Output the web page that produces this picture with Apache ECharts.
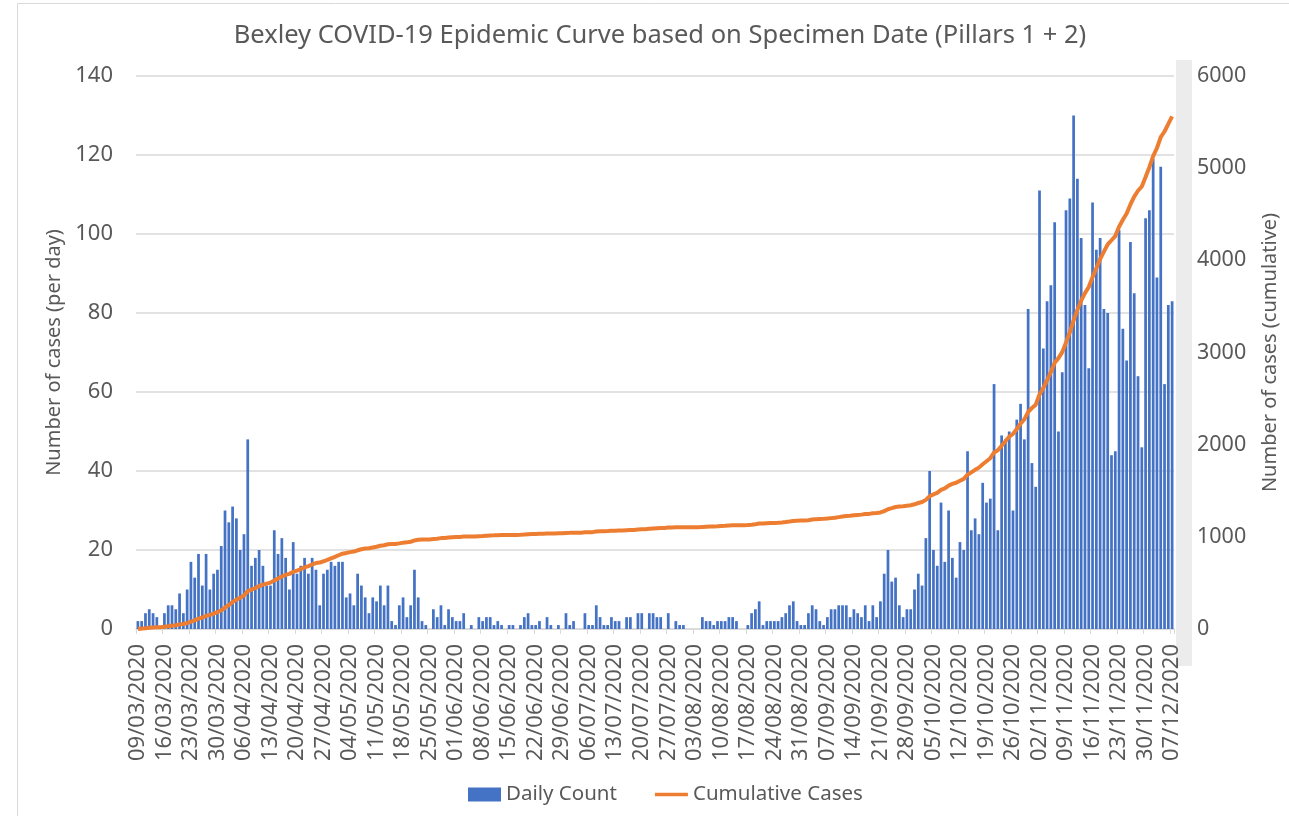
<!DOCTYPE html>
<html>
<head>
<meta charset="utf-8">
<script src="https://cdn.jsdelivr.net/npm/echarts@6/dist/echarts.min.js"></script>
<style>
  html, body { margin: 0; padding: 0; background: #fff; }
  #chart { width: 1289px; height: 816px; }
</style>
</head>
<body>
<div id="chart"></div>
<script>
// first day of the series, one category per day up to 07/12/2020
const startDate = '2020-03-09';
const dayCount = 274;

// daily cases (left axis)
const dailyCount = [
  2, 2, 4, 5, 4, 3, 0, 4, 6, 6,
  5, 9, 4, 10, 17, 13, 19, 11, 19, 10,
  14, 15, 21, 30, 27, 31, 28, 20, 24, 48,
  16, 18, 20, 16, 11, 11, 25, 19, 23, 18,
  10, 22, 14, 16, 18, 14, 18, 15, 6, 14,
  15, 17, 16, 17, 17, 8, 9, 6, 14, 11,
  8, 4, 8, 7, 11, 6, 11, 2, 1, 6,
  8, 3, 6, 15, 8, 2, 1, 0, 5, 3,
  6, 1, 5, 3, 2, 2, 4, 0, 1, 0,
  3, 2, 3, 3, 1, 2, 1, 0, 1, 1,
  0, 1, 3, 4, 1, 1, 2, 0, 3, 1,
  0, 1, 0, 4, 1, 2, 0, 0, 4, 1,
  1, 6, 3, 1, 1, 3, 2, 2, 0, 3,
  3, 0, 4, 4, 0, 4, 4, 3, 3, 0,
  4, 0, 2, 1, 1, 0, 0, 0, 0, 3,
  2, 2, 1, 2, 2, 2, 3, 3, 2, 0,
  0, 1, 4, 5, 7, 1, 2, 2, 2, 2,
  3, 4, 6, 7, 2, 1, 1, 4, 6, 5,
  2, 1, 3, 5, 5, 6, 6, 6, 3, 5,
  4, 3, 6, 2, 6, 3, 7, 14, 20, 12,
  13, 6, 3, 5, 5, 10, 14, 11, 23, 40,
  20, 16, 32, 17, 30, 18, 13, 22, 20, 45,
  25, 28, 24, 37, 32, 33, 62, 25, 49, 48,
  50, 30, 53, 57, 48, 81, 42, 36, 111, 71,
  83, 87, 103, 50, 65, 106, 109, 130, 114, 99,
  82, 66, 108, 96, 99, 81, 80, 44, 45, 101,
  76, 68, 98, 85, 64, 46, 104, 106, 119, 89,
  117, 62, 82, 83
];

// cumulative cases (right axis)
const cumulativeCases = [
  2, 4, 8, 13, 17, 20, 20, 24, 30, 36,
  41, 50, 54, 64, 81, 94, 113, 124, 143, 153,
  167, 182, 203, 233, 260, 291, 319, 339, 363, 411,
  427, 445, 465, 481, 492, 503, 528, 547, 570, 588,
  598, 620, 634, 650, 668, 682, 700, 715, 721, 735,
  750, 767, 783, 800, 817, 825, 834, 840, 854, 865,
  873, 877, 885, 892, 903, 909, 920, 922, 923, 929,
  937, 940, 946, 961, 969, 971, 972, 972, 977, 980,
  986, 987, 992, 995, 997, 999, 1003, 1003, 1004, 1004,
  1007, 1009, 1012, 1015, 1016, 1018, 1019, 1019, 1020, 1021,
  1021, 1022, 1025, 1029, 1030, 1031, 1033, 1033, 1036, 1037,
  1037, 1038, 1038, 1042, 1043, 1045, 1045, 1045, 1049, 1050,
  1051, 1057, 1060, 1061, 1062, 1065, 1067, 1069, 1069, 1072,
  1075, 1075, 1079, 1083, 1083, 1087, 1091, 1094, 1097, 1097,
  1101, 1101, 1103, 1104, 1105, 1105, 1105, 1105, 1105, 1108,
  1110, 1112, 1113, 1115, 1117, 1119, 1122, 1125, 1127, 1127,
  1127, 1128, 1132, 1137, 1144, 1145, 1147, 1149, 1151, 1153,
  1156, 1160, 1166, 1173, 1175, 1176, 1177, 1181, 1187, 1192,
  1194, 1195, 1198, 1203, 1208, 1214, 1220, 1226, 1229, 1234,
  1238, 1241, 1247, 1249, 1255, 1258, 1265, 1279, 1299, 1311,
  1324, 1330, 1333, 1338, 1343, 1353, 1367, 1378, 1401, 1441,
  1461, 1477, 1509, 1526, 1556, 1574, 1587, 1609, 1629, 1674,
  1699, 1727, 1751, 1788, 1820, 1853, 1915, 1940, 1989, 2037,
  2087, 2117, 2170, 2227, 2275, 2356, 2398, 2434, 2545, 2616,
  2699, 2786, 2889, 2939, 3004, 3110, 3219, 3349, 3463, 3562,
  3644, 3710, 3818, 3914, 4013, 4094, 4174, 4218, 4263, 4364,
  4440, 4508, 4606, 4691, 4755, 4801, 4905, 5011, 5130, 5219,
  5336, 5398, 5480, 5563
];

// category labels dd/mm/yyyy
function pad(n) { return n < 10 ? '0' + n : '' + n; }
const dates = [];
const d0 = new Date(startDate + 'T00:00:00Z');
for (let i = 0; i < dayCount; i++) {
  const d = new Date(d0.getTime() + i * 86400000);
  dates.push(pad(d.getUTCDate()) + '/' + pad(d.getUTCMonth() + 1) + '/' + d.getUTCFullYear());
}

const FONT = 'Noto Sans';
const TEXT = '#595959';
const GRID = '#D9D9D9';

const chart = echarts.init(document.getElementById('chart'));

const option = {
  animation: false,
  backgroundColor: '#fff',
  textStyle: { fontFamily: FONT },
  title: {
    text: 'Bexley COVID-19 Epidemic Curve based on Specimen Date (Pillars 1 + 2)',
    left: 655,
    textAlign: 'center',
    top: 18,
    textStyle: { fontFamily: FONT, fontSize: 25.5, fontWeight: 'normal', color: TEXT }
  },
  legend: {
    left: 463,
    top: 779,
    itemWidth: 33,
    itemHeight: 14,
    itemGap: 38,
    textStyle: { fontFamily: FONT, fontSize: 20.5, color: TEXT },
    data: [
      { name: 'Daily Count', icon: 'rect' },
      // thin line icon: the two moveTo points keep the box at 33x14
      { name: 'Cumulative Cases', icon: 'path://M0,0M0,5.2L33,5.2L33,8.8L0,8.8ZM33,14' }
    ]
  },
  grid: { left: 136, right: 115, top: 76, bottom: 187, containLabel: false },
  graphic: [
    {
      type: 'polyline',
      shape: { points: [[17.5, 816], [17.5, 3.5], [1289, 3.5]] },
      style: { fill: 'none', stroke: GRID, lineWidth: 1 },
      silent: true
    },
    {
      type: 'rect',
      shape: { x: 1176, y: 60, width: 16, height: 606 },
      style: { fill: '#ECECEC' },
      silent: true,
      z: -1
    }
  ],
  xAxis: {
    type: 'category',
    data: dates,
    boundaryGap: true,
    axisLine: { lineStyle: { color: GRID, width: 1.5 } },
    axisTick: { show: true, interval: 6, length: 5, lineStyle: { color: GRID } },
    axisLabel: {
      interval: 6,
      rotate: 90,
      margin: 15,
      fontFamily: FONT,
      fontSize: 22,
      color: TEXT
    },
    splitLine: { show: false }
  },
  yAxis: [
    {
      type: 'value',
      min: 0,
      max: 140,
      interval: 20,
      name: 'Number of cases (per day)',
      nameLocation: 'middle',
      nameRotate: 90,
      nameGap: 69,
      nameTextStyle: { fontFamily: FONT, fontSize: 20, color: TEXT },
      axisLine: { show: false },
      axisTick: { show: false },
      axisLabel: { margin: 23, fontFamily: FONT, fontSize: 22, color: TEXT },
      splitLine: { lineStyle: { color: GRID, width: 1.5 } }
    },
    {
      type: 'value',
      min: 0,
      max: 6000,
      interval: 1000,
      position: 'right',
      name: 'Number of cases (cumulative)',
      nameLocation: 'middle',
      nameRotate: 90,
      nameGap: 86,
      nameTextStyle: { fontFamily: FONT, fontSize: 20, color: TEXT },
      axisLine: { show: false },
      axisTick: { show: false },
      axisLabel: {
        margin: 23,
        fontFamily: FONT,
        fontSize: 21.5,
        color: TEXT,
        formatter: v => String(v)
      },
      splitLine: { show: false }
    }
  ],
  series: [
    {
      name: 'Daily Count',
      type: 'bar',
      data: dailyCount,
      barWidth: '72%',
      itemStyle: { color: '#4472C4' }
    },
    {
      name: 'Cumulative Cases',
      type: 'line',
      yAxisIndex: 1,
      data: cumulativeCases,
      symbol: 'none',
      lineStyle: { color: '#ED7D31', width: 4 },
      itemStyle: { color: '#ED7D31' }
    }
  ]
};

chart.setOption(option);
</script>
</body>
</html>
